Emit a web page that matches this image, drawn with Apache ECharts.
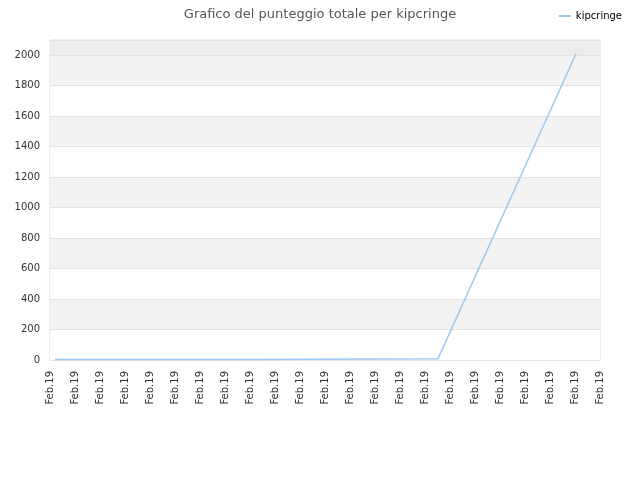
<!DOCTYPE html>
<html>
<head>
<meta charset="utf-8">
<script src="https://cdn.jsdelivr.net/npm/echarts@6/dist/echarts.min.js"></script>
<style>
  html, body { margin: 0; padding: 0; background: #fff; }
  #chart { width: 640px; height: 480px; }
</style>
</head>
<body>
<div id="chart"></div>
<script>
// dati
const seriesName = 'kipcringe';
const tickLabel = 'Feb.19';
const xPos = [0.2, 7.88, 7.92, 15.52, 21.04];
const punteggio = [3, 3, 9, 9, 2010];

const bandColors = ['#ffffff', '#f3f3f3', '#ffffff', '#f3f3f3', '#ffffff', '#f3f3f3',
  '#ffffff', '#f3f3f3', '#ffffff', '#f3f3f3', '#ececec'];

const chart = echarts.init(document.getElementById('chart'));

chart.setOption({
  animation: false,
  textStyle: { fontFamily: 'DejaVu Sans' },
  title: {
    text: 'Grafico del punteggio totale per ' + seriesName,
    left: 'center',
    top: 3,
    textStyle: { fontSize: 13, fontWeight: 'normal', color: '#555' }
  },
  legend: {
    right: 13,
    top: 6,
    icon: 'rect',
    itemWidth: 12,
    itemHeight: 2,
    itemGap: 8,
    textStyle: { fontSize: 10, color: '#000' },
    data: [seriesName]
  },
  grid: {
    left: 50, right: 40, top: 40, bottom: 120,
    show: true, borderColor: '#dddddd', borderWidth: 1
  },
  xAxis: {
    type: 'value',
    min: 0, max: 22, interval: 1,
    axisLine: { show: false },
    axisTick: { show: false },
    splitLine: { show: false },
    axisLabel: {
      rotate: 90,
      fontSize: 10,
      color: '#333',
      margin: 11,
      showMinLabel: true,
      showMaxLabel: true,
      formatter: () => tickLabel
    }
  },
  yAxis: {
    type: 'value',
    min: 0, max: 2100, interval: 200,
    axisLine: { show: false },
    axisTick: { show: false },
    axisLabel: {
      fontSize: 10, color: '#333', margin: 10,
      showMaxLabel: false,
      formatter: v => (v > 2000 ? '' : String(v))
    },
    splitLine: { lineStyle: { color: '#e2e2e2' } },
    splitArea: { show: true, areaStyle: { color: bandColors } }
  },
  series: [{
    name: seriesName,
    type: 'line',
    data: xPos.map((x, i) => [x, punteggio[i]]),
    showSymbol: false,
    color: '#9cc8f4',
    lineStyle: { width: 1.5, color: '#9cc8f4' }
  }]
});
</script>
</body>
</html>
